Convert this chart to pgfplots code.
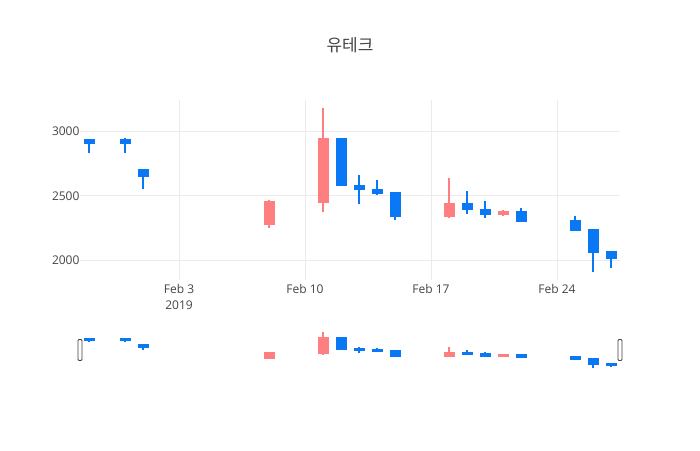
\documentclass[border=0pt]{standalone}
\usepackage{fontspec}
\setmainfont{Open Sans}
\newfontfamily\cjk{Noto Sans CJK KR}
\usepackage{pgfplots}
\usepackage{pgfplotstable}
\pgfplotsset{compat=1.18}
\definecolor{incred}{HTML}{FF7F80}
\definecolor{decblue}{HTML}{0A78F5}
\definecolor{txt}{HTML}{444444}
\definecolor{gridc}{HTML}{EBEBEB}

% x = days from Feb 3 2019
\pgfplotstableread{
x  o    h    l    c
5  2270 2465 2252 2457
8  2444 3182 2374 2953
15 2335 2639 2327 2442
18 2348 2392 2346 2382
}\inc
\pgfplotstableread{
x  o    h    l    c
-5 2940 2945 2831 2906
-3 2940 2950 2831 2905
-2 2707 2710 2556 2650
9  2953 2953 2574 2574
10 2587 2662 2434 2543
11 2553 2626 2509 2517
12 2527 2527 2312 2338
16 2442 2540 2356 2390
17 2400 2460 2327 2348
19 2382 2408 2299 2299
22 2309 2346 2229 2229
23 2239 2239 1909 2055
24 2068 2068 1938 2008
}\dec

\pgfplotsset{
  candle/.style 2 args={draw=none, mark=none, forget plot,
    error bars/.cd, y dir=plus, y explicit, error mark=none,
    error bar style={line width=#2, draw=#1, line cap=butt}},
}

\begin{document}
\begin{tikzpicture}
\path[use as bounding box] (0,0) rectangle (700pt,450pt);
\node[font=\cjk\fontsize{17}{20}\selectfont, text=txt] at (350pt,405pt) {유테크};

\begin{axis}[
  at={(80pt,170pt)}, anchor=south west,
  scale only axis, width=540pt, height=180pt,
  xmin=-5.5, xmax=24.5, ymin=1845, ymax=3246,
  axis line style={draw=none},
  major tick length=0pt,
  xtick={0,7,14,21},
  xticklabels={{Feb 3\\2019},{Feb 10},{Feb 17},{Feb 24}},
  ytick={2000,2500,3000},
  grid=major, grid style={draw=gridc, line width=0.8pt},
  tick label style={font=\fontsize{12}{16}\selectfont, text=txt},
  xticklabel style={align=center, yshift=-1pt},
  yticklabel style={xshift=3pt},
  /pgf/number format/assume math mode=true,
  /pgf/number format/1000 sep={},
  clip=true,
]
% wicks
\addplot[candle={incred}{2pt}] table[x=x, y=l, y error expr=\thisrow{h}-\thisrow{l}] {\inc};
\addplot[candle={decblue}{2pt}] table[x=x, y=l, y error expr=\thisrow{h}-\thisrow{l}] {\dec};
% bodies
\addplot[candle={incred}{11pt}] table[x=x, y=o, y error expr=\thisrow{c}-\thisrow{o}] {\inc};
\addplot[candle={decblue}{11pt}] table[x=x, y=c, y error expr=\thisrow{o}-\thisrow{c}] {\dec};
\end{axis}

% range slider
\begin{axis}[
  at={(80pt,80pt)}, anchor=south west,
  scale only axis, width=540pt, height=40pt,
  xmin=-5.5, xmax=24.5, ymin=1845, ymax=3246,
  axis lines=none,
  clip=false,
]
\addplot[candle={incred}{1.5pt}] table[x=x, y=l, y error expr=\thisrow{h}-\thisrow{l}] {\inc};
\addplot[candle={decblue}{1.5pt}] table[x=x, y=l, y error expr=\thisrow{h}-\thisrow{l}] {\dec};
% bodies with the 1px outline that the reference draws round them
\addplot[candle={incred}{11pt}] table[x=x, y expr=\thisrow{o}-35, y error expr=\thisrow{c}-\thisrow{o}+70] {\inc};
\addplot[candle={decblue}{11pt}] table[x=x, y expr=\thisrow{c}-35, y error expr=\thisrow{o}-\thisrow{c}+70] {\dec};
\node[draw=black!75, fill=white, line width=0.8pt, rounded corners=1pt,
      minimum width=4pt, minimum height=21pt, inner sep=0pt] at (rel axis cs:0,0.5) {};
\node[draw=black!75, fill=white, line width=0.8pt, rounded corners=1pt,
      minimum width=4pt, minimum height=21pt, inner sep=0pt] at (rel axis cs:1,0.5) {};
\end{axis}
\end{tikzpicture}
\end{document}
